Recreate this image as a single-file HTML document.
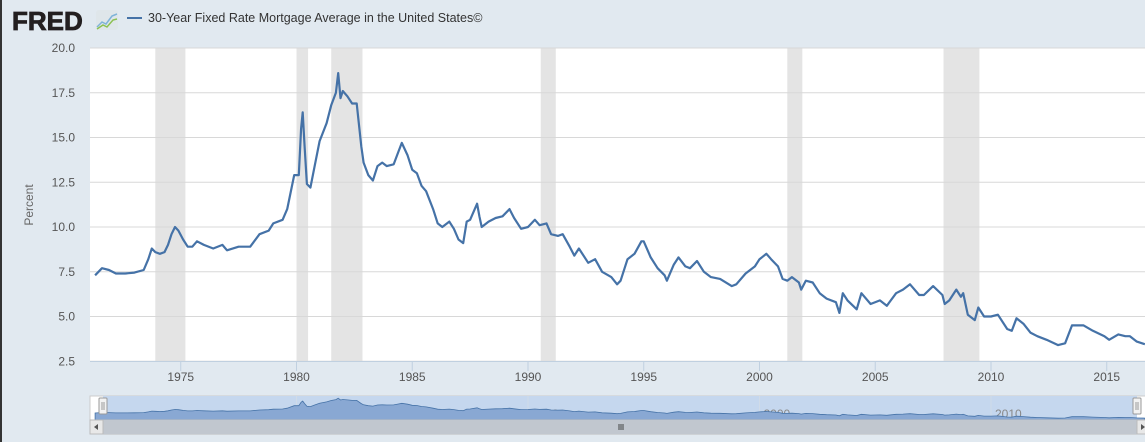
<!DOCTYPE html>
<html><head><meta charset="utf-8">
<style>
body{margin:0;background:#e1e9f0;font-family:"Liberation Sans",sans-serif;}
#wrap{position:relative;width:1145px;height:442px;overflow:hidden;background:#e1e9f0;border-left:2px solid #333;box-sizing:border-box;}
svg{position:absolute;left:0;top:0;}
</style></head><body>
<div id="wrap">
<svg id="chart" width="1145" height="442">
  <g>
    <text x="10" y="30" font-size="26" font-weight="bold" fill="#231f20" font-family="Liberation Sans,sans-serif" stroke="#231f20" stroke-width="0.8">FRED</text>
    <rect x="94" y="10" width="22" height="20" rx="3" fill="#dfe6ea"/>
    <polyline points="95,27 100,22 104,24 110,16 115,14" fill="none" stroke="#7fb3d8" stroke-width="1.5"/>
    <polyline points="95,29 101,25 105,27 111,20 115,19" fill="none" stroke="#8cc152" stroke-width="1.5"/>
    <line x1="125" y1="18" x2="140" y2="18" stroke="#4572a7" stroke-width="2"/>
    <text x="146" y="22" font-size="12.5" fill="#333">30-Year Fixed Rate Mortgage Average in the United States©</text>
  </g>
  <rect x="88" y="48" width="1057" height="313" fill="#fff"/>
  <g id="rec"></g>
  <g id="grid"></g>
  <g id="xaxis"></g>
  <path id="line" fill="none" stroke="#4572a7" stroke-width="2.2" stroke-linejoin="round"/>
  <text transform="translate(31,205) rotate(-90)" text-anchor="middle" font-size="12" fill="#666">Percent</text>
  <g>
    <rect x="88" y="396" width="1057" height="24" fill="#fff" stroke="#ccc"/>
    <rect x="101" y="396" width="1034" height="24" fill="#c5d7ee"/>
    <g id="navx"></g>
    <path id="navarea" fill="#89a8d3" stroke="#4572a7" stroke-width="0.8"/>
    <rect x="97" y="398" width="8" height="16" fill="#f2f2f2" stroke="#999" rx="1"/>
    <line x1="100" y1="402" x2="100" y2="410" stroke="#999"/><line x1="102" y1="402" x2="102" y2="410" stroke="#999"/>
    <rect x="1131" y="398" width="8" height="16" fill="#f2f2f2" stroke="#999" rx="1"/>
    <line x1="1134" y1="402" x2="1134" y2="410" stroke="#999"/><line x1="1136" y1="402" x2="1136" y2="410" stroke="#999"/>
  </g>
  <g>
    <rect x="88" y="420" width="1057" height="14" fill="#eee" stroke="#bbb"/>
    <rect x="101" y="420" width="1034" height="14" fill="#c1c7cf"/>
    <line x1="617" y1="424" x2="617" y2="430" stroke="#444"/><line x1="619" y1="424" x2="619" y2="430" stroke="#444"/><line x1="621" y1="424" x2="621" y2="430" stroke="#444"/>
    <rect x="88" y="420" width="13" height="14" fill="#e8e8e8" stroke="#bbb"/>
    <path d="M96,424 L92,427 L96,430 Z" fill="#555"/>
    <rect x="1135" y="420" width="12" height="14" fill="#e8e8e8" stroke="#bbb"/>
    <path d="M1139,424 L1143,427 L1139,430 Z" fill="#555"/>
  </g>
</svg>
</div>
<script>
const dates=[1971.3,1971.6,1971.9,1972.2,1972.6,1973.0,1973.4,1973.6,1973.75,1973.9,1974.1,1974.3,1974.45,1974.6,1974.75,1974.9,1975.1,1975.3,1975.5,1975.7,1976.0,1976.4,1976.8,1977.0,1977.5,1978.0,1978.4,1978.8,1979.0,1979.4,1979.6,1979.9,1980.1,1980.2,1980.27,1980.35,1980.45,1980.6,1980.8,1981.0,1981.3,1981.5,1981.7,1981.8,1981.9,1982.0,1982.2,1982.4,1982.6,1982.8,1982.9,1983.1,1983.3,1983.5,1983.7,1983.9,1984.2,1984.4,1984.55,1984.8,1985.0,1985.2,1985.4,1985.6,1985.9,1986.1,1986.3,1986.6,1986.8,1987.0,1987.2,1987.35,1987.5,1987.8,1987.9,1988.0,1988.3,1988.6,1988.9,1989.2,1989.4,1989.7,1990.0,1990.3,1990.5,1990.8,1991.0,1991.3,1991.5,1991.8,1992.0,1992.2,1992.6,1992.9,1993.2,1993.6,1993.85,1994.0,1994.3,1994.6,1994.9,1995.0,1995.3,1995.6,1995.9,1996.0,1996.3,1996.5,1996.8,1997.0,1997.3,1997.6,1997.9,1998.3,1998.8,1999.0,1999.4,1999.8,2000.0,2000.3,2000.5,2000.8,2001.0,2001.2,2001.4,2001.7,2001.8,2002.0,2002.3,2002.6,2002.9,2003.3,2003.45,2003.6,2003.8,2004.2,2004.4,2004.8,2005.2,2005.5,2005.9,2006.2,2006.5,2006.9,2007.1,2007.5,2007.9,2008.0,2008.2,2008.5,2008.7,2008.8,2009.0,2009.3,2009.45,2009.7,2010.0,2010.3,2010.7,2010.9,2011.1,2011.4,2011.7,2012.0,2012.4,2012.9,2013.2,2013.5,2013.7,2014.0,2014.4,2014.9,2015.1,2015.5,2015.8,2016.0,2016.3,2016.65];
const rates=[7.3,7.7,7.6,7.4,7.4,7.45,7.6,8.2,8.8,8.6,8.5,8.6,9.0,9.6,10.0,9.8,9.3,8.9,8.9,9.2,9.0,8.8,9.0,8.7,8.9,8.9,9.6,9.8,10.2,10.4,11.0,12.9,12.9,15.5,16.4,14.5,12.4,12.2,13.5,14.8,15.8,16.8,17.5,18.6,17.2,17.6,17.3,16.9,16.9,14.5,13.6,12.9,12.6,13.4,13.6,13.4,13.5,14.2,14.7,14.0,13.2,13.0,12.3,12.0,11.0,10.2,10.0,10.3,9.9,9.3,9.1,10.3,10.4,11.3,10.6,10.0,10.3,10.5,10.6,11.0,10.5,9.9,10.0,10.4,10.1,10.2,9.6,9.5,9.6,8.9,8.4,8.8,8.0,8.2,7.5,7.2,6.8,7.0,8.2,8.5,9.2,9.2,8.3,7.7,7.3,7.0,7.9,8.3,7.8,7.7,8.1,7.5,7.2,7.1,6.7,6.8,7.4,7.8,8.2,8.5,8.2,7.8,7.1,7.0,7.2,6.9,6.5,7.0,6.9,6.3,6.0,5.8,5.2,6.3,5.9,5.4,6.3,5.7,5.9,5.6,6.3,6.5,6.8,6.2,6.2,6.7,6.2,5.7,5.9,6.5,6.1,6.3,5.1,4.8,5.5,5.0,5.0,5.1,4.3,4.2,4.9,4.6,4.1,3.9,3.7,3.4,3.5,4.5,4.5,4.5,4.2,3.9,3.7,4.0,3.9,3.9,3.6,3.45];
const recStart=[1973.9,1980.0,1981.5,1990.55,2001.2,2007.95];
const recEnd=[1975.2,1980.5,1982.85,1991.2,2001.85,2009.5];
const yTicks=[2.5,5.0,7.5,10.0,12.5,15.0,17.5,20.0];
const xTicks=[1975,1980,1985,1990,1995,2000,2005,2010,2015];
const navTicks=[1980,1990,2000,2010];

const NS='http://www.w3.org/2000/svg';
const X=y=>88+(y-1971.08)*23.15;
const Y=v=>48+(20-v)*17.9;
const NY=v=>420-(v-2)*(23/17.5);
function mk(tag,attrs,parent){const e=document.createElementNS(NS,tag);for(const k in attrs)e.setAttribute(k,attrs[k]);parent.appendChild(e);return e;}

const rec=document.getElementById('rec');
recStart.forEach((s,i)=>{
  const r=mk('rect',{x:X(s),y:48,width:X(recEnd[i])-X(s),height:313,fill:'#e4e4e4'},rec);
  
  
});
const grid=document.getElementById('grid');
yTicks.forEach(v=>{
  const l=mk('line',{x1:88,x2:1145,y1:Y(v),y2:Y(v),stroke:'#d8d8d8'},grid);
  
  
  const t=mk('text',{x:73,y:Y(v)+4,'text-anchor':'end','font-size':12,fill:'#555'},grid);
  t.textContent=v.toFixed(1);
  
  
});
const xa=document.getElementById('xaxis');
mk('line',{x1:88,x2:1145,y1:361.5,y2:361.5,stroke:'#c0d0e0'},xa);
xTicks.forEach(v=>{
  mk('line',{x1:X(v),x2:X(v),y1:361,y2:371,stroke:'#c0d0e0'},xa);
  const t=mk('text',{x:X(v),y:381,'text-anchor':'middle','font-size':12,fill:'#555'},xa);
  t.textContent=v;
  
  
});
let d='';
dates.forEach((t,i)=>{d+=(i?'L':'M')+X(t).toFixed(1)+','+Y(rates[i]).toFixed(1);});
document.getElementById('line').setAttribute('d',d);
let nd='M'+X(dates[0]).toFixed(1)+',420';
dates.forEach((t,i)=>{nd+='L'+X(t).toFixed(1)+','+NY(rates[i]).toFixed(1);});
nd+='L'+X(dates[dates.length-1]).toFixed(1)+',420Z';
document.getElementById('navarea').setAttribute('d',nd);
const nx=document.getElementById('navx');
navTicks.forEach(v=>{
  mk('line',{x1:X(v),x2:X(v),y1:396,y2:420,stroke:'#d0dbe8'},nx);
  const t=mk('text',{x:X(v)+4,y:418,'font-size':12,fill:'#888'},nx);
  t.textContent=v;
  
  
});
</script>
</body></html>
